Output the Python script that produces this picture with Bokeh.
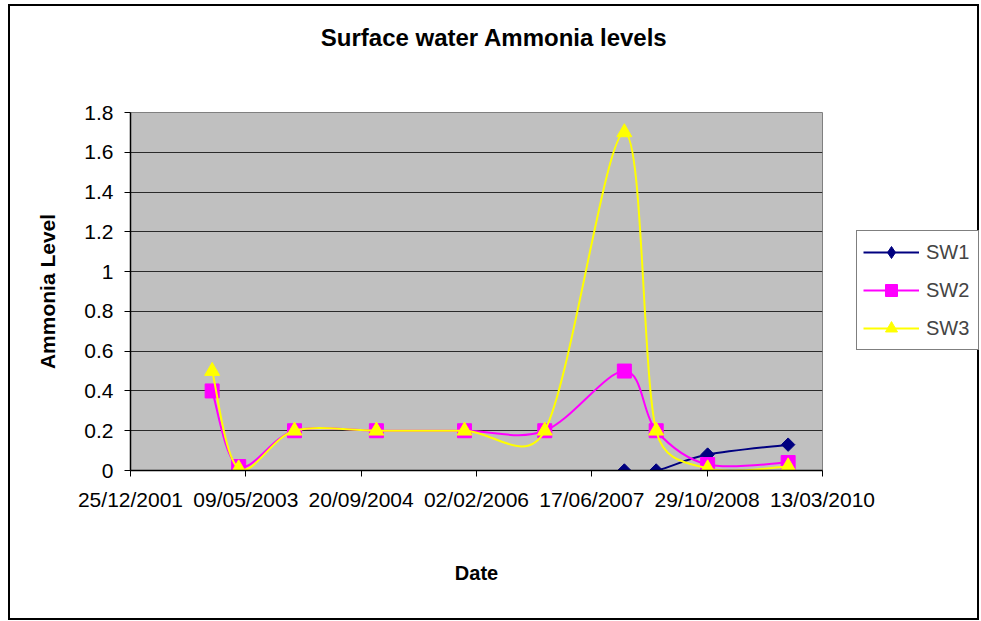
import numpy as np
from datetime import datetime
from bokeh.plotting import figure
from bokeh.layouts import row, column
from bokeh.models import (Range1d, FixedTicker, DatetimeTickFormatter, Label,
                          Legend, LegendItem, ColumnDataSource)
from bokeh.embed import file_html
from bokeh.resources import INLINE

# ---------------- data ----------------
sample_dates = ["2002-12-14", "2003-04-08", "2003-12-06", "2004-11-25", "2005-12-12",
                "2006-11-25", "2007-11-05", "2008-03-22", "2008-10-31", "2009-10-15"]
sw1 = [None, None, None, None, None, None, 0.0, 0.0, 0.08, 0.13]
sw2 = [0.4, 0.02, 0.2, 0.2, 0.2, 0.2, 0.5, 0.2, 0.03, 0.04]
sw3 = [0.5, 0.01, 0.2, 0.2, 0.2, 0.2, 1.7, 0.2, 0.01, 0.02]
series_names = ["SW1", "SW2", "SW3"]

x_tick_labels = ["25/12/2001", "09/05/2003", "20/09/2004", "02/02/2006",
                 "17/06/2007", "29/10/2008", "13/03/2010"]
y_ticks = [0, 0.2, 0.4, 0.6, 0.8, 1.0, 1.2, 1.4, 1.6, 1.8]
y_tick_labels = ["0", "0.2", "0.4", "0.6", "0.8", "1", "1.2", "1.4", "1.6", "1.8"]

title_text = "Surface water Ammonia levels"
x_title = "Date"
y_title = "Ammonia Level"

# ---------------- layout constants ----------------
FRAME_W, FRAME_H = 692, 358
TITLE_H = 60
RIGHT_W = 157
FONT = "Liberation Sans"

EPOCH = datetime(1970, 1, 1)


def to_ms(dt):
    return (dt - EPOCH).total_seconds() * 1000.0


x_ms = [to_ms(datetime.strptime(d, "%Y-%m-%d")) for d in sample_dates]
x_tick_ms = [to_ms(datetime.strptime(d, "%d/%m/%Y")) for d in x_tick_labels]
Y_MAX = y_ticks[-1]

# pixel-per-unit factors (used only to shape the smoothing like a spreadsheet does)
SX = FRAME_W / (x_tick_ms[-1] - x_tick_ms[0])
SY = FRAME_H / Y_MAX


def smooth_segments(xs, ys, f=1.0 / 6.0):
    """Cubic Bezier control points (spreadsheet-style smoothing, arms limited)."""
    n = len(xs)
    P = [(x * SX, y * SY) for x, y in zip(xs, ys)]

    def dist(a, b):
        return float(np.hypot(a[0] - b[0], a[1] - b[1]))

    out = dict(x0=[], y0=[], x1=[], y1=[], cx0=[], cy0=[], cx1=[], cy1=[])
    for i in range(n - 1):
        p0 = P[i - 1] if i > 0 else P[i]
        p1, p2 = P[i], P[i + 1]
        p3 = P[i + 2] if i + 2 < n else P[i + 1]
        d12 = dist(p1, p2)
        d02 = dist(p0, p2)
        d13 = dist(p1, p3)
        f1 = f
        if d02 * f > d12 / 2 and d02 > 0:
            f1 = d12 / (2 * d02)
        f2 = f
        if d13 * f > d12 / 2 and d13 > 0:
            f2 = d12 / (2 * d13)
        c1 = (p1[0] + (p2[0] - p0[0]) * f1, p1[1] + (p2[1] - p0[1]) * f1)
        c2 = (p2[0] - (p3[0] - p1[0]) * f2, p2[1] - (p3[1] - p1[1]) * f2)
        out["x0"].append(xs[i]); out["y0"].append(ys[i])
        out["x1"].append(xs[i + 1]); out["y1"].append(ys[i + 1])
        out["cx0"].append(c1[0] / SX); out["cy0"].append(c1[1] / SY)
        out["cx1"].append(c2[0] / SX); out["cy1"].append(c2[1] / SY)
    return out


def blank_figure(w, h):
    f = figure(width=w, height=h, output_backend="svg", toolbar_location=None,
               x_axis_location=None, y_axis_location=None, min_border=0,
               x_range=Range1d(0, 1), y_range=Range1d(0, 1))
    f.title.visible = False
    f.grid.visible = False
    f.outline_line_color = None
    f.background_fill_alpha = 0
    f.border_fill_alpha = 0
    return f


# ---------------- title strip ----------------
top = blank_figure(122 + FRAME_W + RIGHT_W, TITLE_H)
top.add_layout(Label(x=485.7, y=26.7, x_units="screen", y_units="screen", text=title_text,
                     text_align="center", text_baseline="alphabetic", text_font=FONT,
                     text_font_size="24px", text_font_style="bold", text_color="black"))

# ---------------- main plot ----------------
p = figure(frame_width=FRAME_W, frame_height=FRAME_H, x_axis_type="datetime",
           output_backend="svg", toolbar_location=None,
           min_border_left=122, min_border_right=RIGHT_W,
           min_border_top=112 - 4 - TITLE_H, min_border_bottom=150)
p.title.visible = False

p.x_range = Range1d(x_tick_ms[0], x_tick_ms[-1])
p.y_range = Range1d(0, Y_MAX)

p.background_fill_color = "#C0C0C0"
p.border_fill_alpha = 0
p.outline_line_color = "#808080"
p.outline_line_width = 1

p.xgrid.visible = False
p.ygrid.grid_line_color = "#2a2a2a"
p.ygrid.grid_line_width = 1

xa = p.xaxis[0]
xa.ticker = FixedTicker(ticks=x_tick_ms)
fmt = "%d/%m/%Y"
xa.formatter = DatetimeTickFormatter(milliseconds=fmt, seconds=fmt, minsec=fmt, minutes=fmt,
                                     hourmin=fmt, hours=fmt, days=fmt, months=fmt, years=fmt)
xa.axis_label = x_title
ya = p.yaxis[0]
ya.ticker = FixedTicker(ticks=y_ticks)
ya.major_label_overrides = {t: l for t, l in zip(y_ticks, y_tick_labels)}
ya.axis_label = y_title

for ax in (xa, ya):
    ax.axis_line_color = "black"
    ax.axis_line_width = 1.5
    ax.major_tick_line_color = "black"
    ax.major_tick_line_width = 1
    ax.major_tick_out = 6
    ax.major_tick_in = 0
    ax.minor_tick_line_color = None
    ax.major_label_text_font = FONT
    ax.major_label_text_font_size = "21px"
    ax.major_label_text_color = "black"
    ax.axis_label_text_font = FONT
    ax.axis_label_text_font_style = "bold"
    ax.axis_label_text_color = "black"
xa.major_label_standoff = 11
ya.major_label_standoff = 11
xa.axis_label_text_font_size = "20px"
ya.axis_label_text_font_size = "21px"
xa.axis_label_standoff = 48
ya.axis_label_standoff = 22

# ---------------- legend strip (laid over the plot's right margin) ----------------
side = blank_figure(RIGHT_W, FRAME_H + 150 + 112 - 4 - TITLE_H)
side.margin = (0, 0, 0, -RIGHT_W)

styles = [
    dict(color="#000080", marker="square", size=9.5, angle=np.pi / 4, legend_marker="diamond"),
    dict(color="#FF00FF", marker="square", size=14, angle=0.0, legend_marker="square"),
    dict(color="#FFFF00", marker="triangle", size=15, angle=0.0, legend_marker="triangle"),
]

items = []
for name, vals, st in zip(series_names, [sw1, sw2, sw3], styles):
    xs = [x for x, v in zip(x_ms, vals) if v is not None]
    ys = [v for v in vals if v is not None]
    seg = ColumnDataSource(smooth_segments(xs, ys))
    p.bezier(x0="x0", y0="y0", x1="x1", y1="y1", cx0="cx0", cy0="cy0",
             cx1="cx1", cy1="cy1", source=seg, line_color=st["color"], line_width=2)
    p.scatter(xs, ys, marker=st["marker"], size=st["size"], angle=st["angle"],
              fill_color=st["color"], line_color=st["color"], line_width=1)
    # legend swatches (hidden renderers of the same series in the legend strip)
    k_line = side.bezier(x0="x0", y0="y0", x1="x1", y1="y1", cx0="cx0", cy0="cy0",
                         cx1="cx1", cy1="cy1", source=seg, line_color=st["color"],
                         line_width=2, visible=False)
    k_pts = side.scatter(xs, ys, marker=st["legend_marker"], size=st["size"],
                         fill_color=st["color"], line_color=st["color"], line_width=1,
                         visible=False)
    items.append(LegendItem(label=name, renderers=[k_line, k_pts]))

legend = Legend(items=items, location=(34, 120),
                border_line_color="black", border_line_width=1,
                background_fill_color="white", background_fill_alpha=1,
                padding=6, spacing=8, glyph_width=56, glyph_height=30,
                label_standoff=7, label_text_font=FONT, label_text_font_size="20px",
                label_height=30, label_width=46, margin=0)
side.add_layout(legend, "center")

layout = column(top, row(p, side))
layout.margin = (4, 0, 0, 8)
layout.styles = {"outline": "2px solid black", "outline-offset": "-2px",
                 "background-color": "white"}

open("out.html", "w").write(file_html(layout, INLINE))
